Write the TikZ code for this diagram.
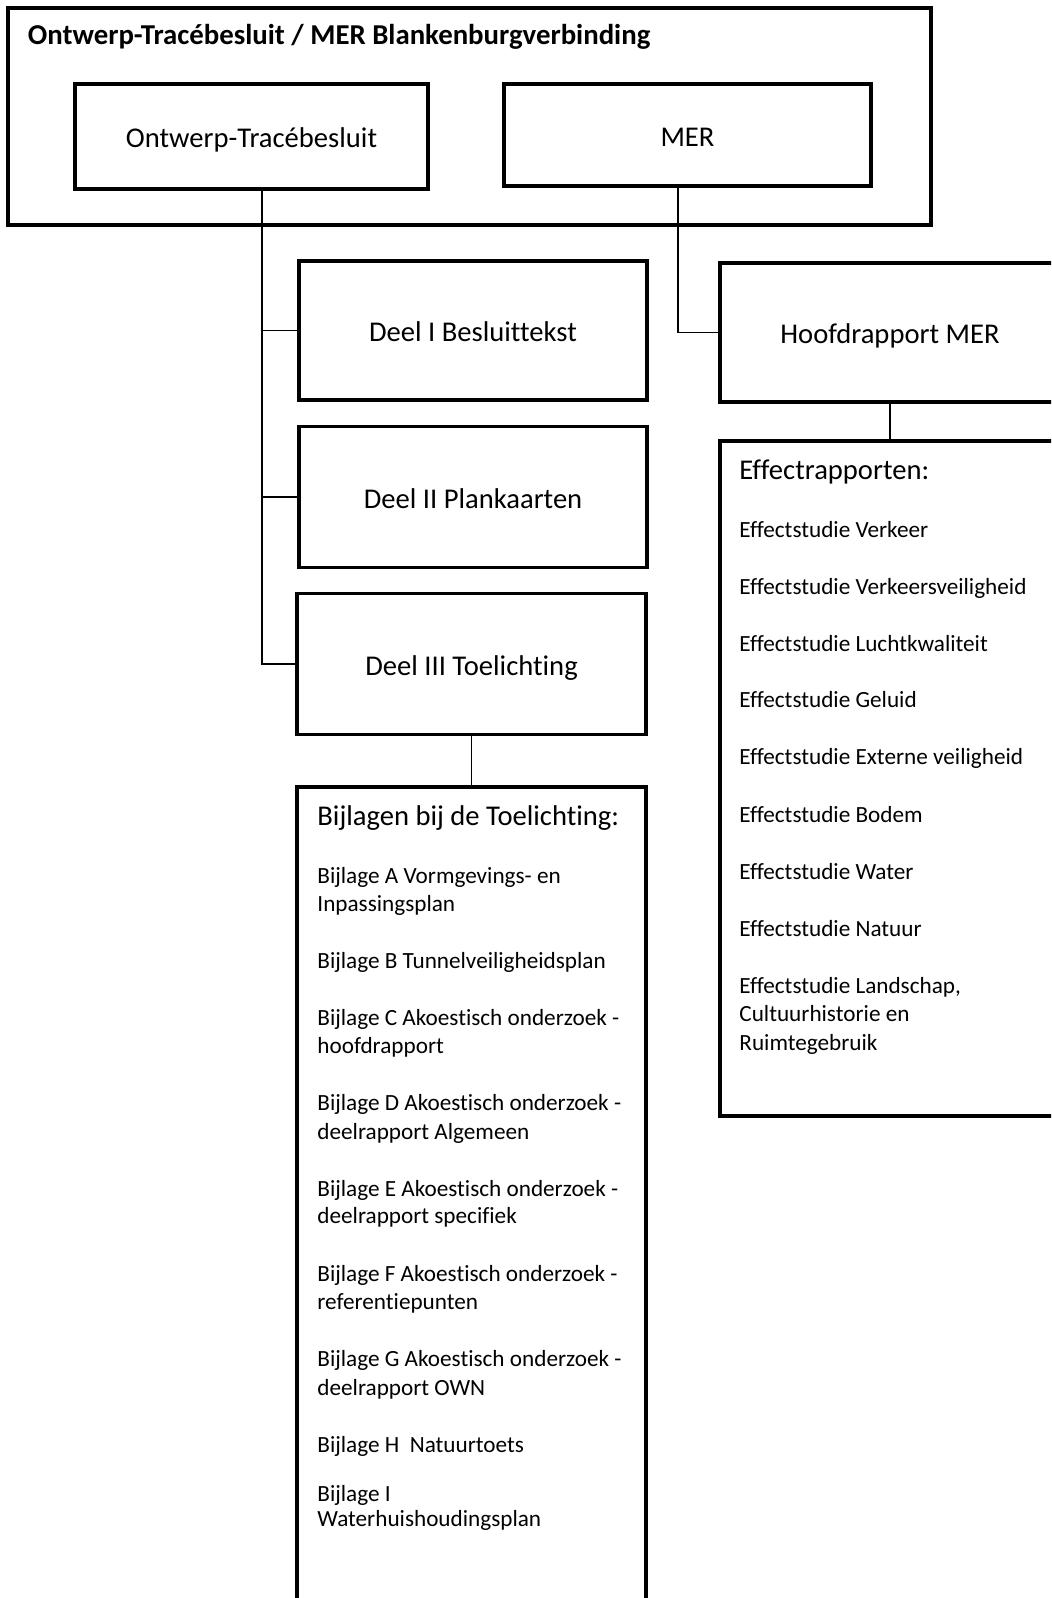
\documentclass[tikz,border=0pt]{standalone}
\usepackage{fontspec}
\setmainfont{Carlito}[Ligatures=CommonOff]
\usetikzlibrary{positioning}
\newcommand{\boxfont}{\fontsize{14.3pt}{17pt}\selectfont}
\newcommand{\itemfont}{\fontsize{11.6pt}{14pt}\selectfont}
\newcommand{\titlefont}{\fontsize{14.4pt}{17pt}\selectfont\bfseries}
\tikzset{
  docbox/.style={rectangle,draw=black,line width=1.6pt,align=center,inner sep=0pt,font=\boxfont,
    text height=1.3em,text depth=0.18em},
  conn/.style={draw=black,line width=0.75pt},
  headtxt/.style={anchor=base west,inner sep=0pt,font=\boxfont},
  itemtxt/.style={anchor=base west,inner sep=0pt,font=\itemfont}
}
\begin{document}
\begin{tikzpicture}[x=0.5pt,y=-0.5pt]
  \useasboundingbox (0,0) rectangle (1051,1598);
  \clip (0,0) rectangle (1051,1598);
  % top frame
  \node[docbox,minimum width=461.5pt,minimum height=108.5pt] (frame) at (469.5,116.5) {};
  \node[anchor=base west,inner sep=0pt,font=\titlefont] (title) at (27.5,44.5)
      {Ontwerp-Tracébesluit / MER Blankenburgverbinding};
  \node[docbox,minimum width=176.5pt,minimum height=52.5pt] (otb) at (251.5,136.5) {Ontwerp-Tracébesluit};
  \node[docbox,minimum width=183.5pt,minimum height=51pt] (mer) at (687.5,135) {MER};

  % Ontwerp-Tracebesluit parts
  \node[docbox,minimum width=174pt,minimum height=69.5pt] (d1) at (473,330.5) {Deel I Besluittekst};
  \node[docbox,minimum width=174pt,minimum height=70.5pt] (d2) at (473,497) {Deel II Plankaarten};
  \node[docbox,minimum width=174.5pt,minimum height=70.5pt] (d3) at (471.5,664) {Deel III Toelichting};
  \node[docbox,minimum width=174.5pt,minimum height=416.5pt] (bijl) at (471.5,1203.5) {};

  % MER parts
  \node[docbox,minimum width=170pt,minimum height=69.5pt] (hoofd) at (890,332.5) {Hoofdrapport MER};
  \node[docbox,minimum width=170pt,minimum height=337.5pt] (effect) at (890,778.5) {};

  % connectors
  \coordinate (spine) at ([xshift=5.25pt]otb.south);
  \draw[conn] (spine) |- (d1.west);
  \draw[conn] (spine) |- (d2.west);
  \draw[conn] (spine) |- (d3.west);
  \draw[conn] ([xshift=-4.75pt]mer.south) |- (hoofd.west);
  \draw[conn] (hoofd.south) -- (effect.north);
  \draw[conn] (d3.south) -- (bijl.north);

  % Effectrapporten
  \node[headtxt] (effhead) at (739,480) {Effectrapporten:};
  \foreach \y/\t [count=\i] in {537.5/Effectstudie Verkeer,
      594.5/Effectstudie Verkeersveiligheid,
      651.5/Effectstudie Luchtkwaliteit,
      707.5/Effectstudie Geluid,
      764.5/Effectstudie Externe veiligheid,
      822/Effectstudie Bodem,
      879/Effectstudie Water,
      936/Effectstudie Natuur,
      993/{Effectstudie Landschap,},
      1021.5/Cultuurhistorie en,
      1050.5/Ruimtegebruik}
    \node[itemtxt] (eff\i) at (739,\y) {\t};

  % Bijlagen
  \node[headtxt] (bijlhead) at (317,825) {Bijlagen bij de Toelichting:};
  \foreach \y/\t [count=\i] in {883/Bijlage A Vormgevings- en,
      911.5/Inpassingsplan,
      968/Bijlage B Tunnelveiligheidsplan,
      1025/Bijlage C Akoestisch onderzoek -,
      1053.5/hoofdrapport,
      1110.5/Bijlage D Akoestisch onderzoek -,
      1139/deelrapport Algemeen,
      1196/Bijlage E Akoestisch onderzoek -,
      1223.5/deelrapport specifiek,
      1281/Bijlage F Akoestisch onderzoek -,
      1309/referentiepunten,
      1366.5/Bijlage G Akoestisch onderzoek -,
      1395/deelrapport OWN,
      1452/Bijlage H\ \ Natuurtoets,
      1501/Bijlage I,
      1526.5/Waterhuishoudingsplan}
    \node[itemtxt] (bij\i) at (317,\y) {\t};
\end{tikzpicture}
\end{document}
